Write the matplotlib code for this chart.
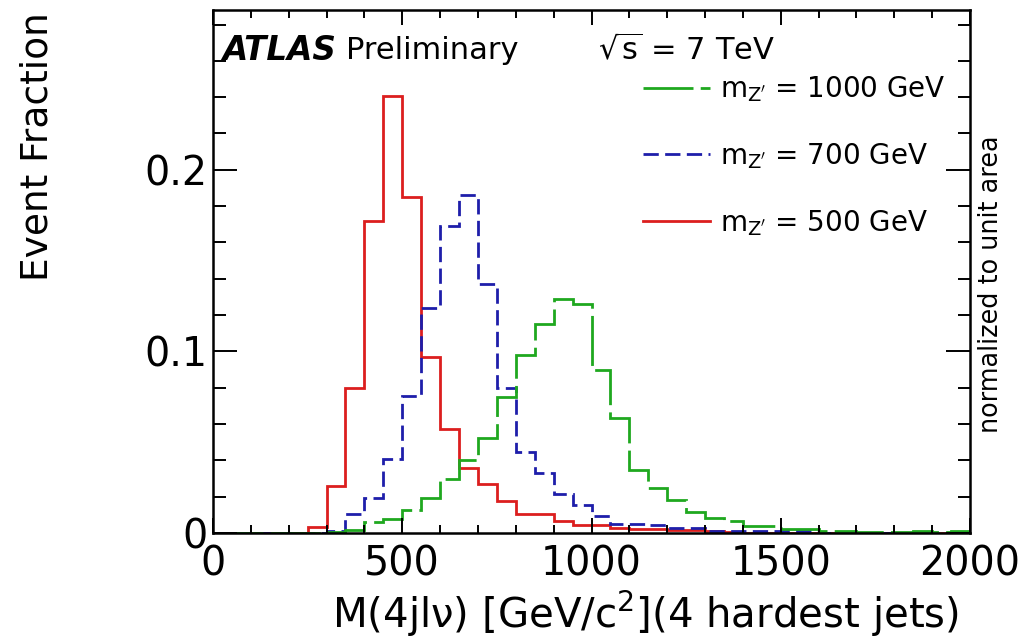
import numpy as np
import matplotlib
matplotlib.use("Agg")
import matplotlib.pyplot as plt
from matplotlib.ticker import MultipleLocator, FuncFormatter

# ---- data (bin width 50 GeV, 0-2000) ----
bin_edges = np.arange(0, 2001, 50)

frac_500 = [0, 0, 0, 0, 0, 0.0035, 0.026, 0.080, 0.172, 0.2406,
            0.185, 0.097, 0.057, 0.036, 0.027, 0.0175, 0.0105, 0.0105, 0.0065, 0.0044,
            0.0044, 0.003, 0.0022, 0.0022, 0.0018, 0.0015, 0.001, 0.0005, 0, 0,
            0, 0, 0, 0, 0, 0, 0, 0, 0, 0]

frac_700 = [0, 0, 0, 0, 0, 0, 0.001, 0.0105, 0.0195, 0.0405,
            0.0755, 0.124, 0.169, 0.186, 0.137, 0.080, 0.0445, 0.033, 0.0215, 0.0155,
            0.0093, 0.0052, 0.005, 0.0045, 0.003, 0.0025, 0.001, 0.001, 0.001, 0.001,
            0.001, 0.001, 0, 0, 0, 0, 0, 0, 0, 0]

frac_1000 = [0, 0, 0, 0, 0, 0, 0.0008, 0.0015, 0.006, 0.0075,
             0.0125, 0.0195, 0.030, 0.040, 0.0525, 0.075, 0.098, 0.115, 0.129, 0.126,
             0.0895, 0.0635, 0.0345, 0.025, 0.018, 0.0115, 0.0085, 0.0065, 0.004, 0.004,
             0.0022, 0.0022, 0.001, 0.001, 0.0004, 0.0004, 0.0005, 0.001, 0.0004, 0.001]

labels = {"500": r"$\mathrm{m_{Z'}}$ = 500 GeV",
          "700": r"$\mathrm{m_{Z'}}$ = 700 GeV",
          "1000": r"$\mathrm{m_{Z'}}$ = 1000 GeV"}

x_ticks = [0, 500, 1000, 1500, 2000]
y_ticks = [0, 0.1, 0.2]

# ---- figure ----
plt.rcParams['font.family'] = ['DejaVu Sans']
plt.rcParams['mathtext.fontset'] = 'dejavusans'

W, H = 1023, 640
fig = plt.figure(figsize=(W / 100, H / 100), dpi=100)
ax = fig.add_axes([213 / W, 1 - 533 / H, (970 - 213) / W, (533 - 10) / H])

lw = 2.0
s_red = ax.stairs(frac_500, bin_edges, color='#dc1e1e', lw=lw, baseline=0,
                  label=labels["500"])
s_blue = ax.stairs(frac_700, bin_edges, color='#1e1eaa', lw=lw, baseline=0,
                   linestyle=(0, (5.5, 2.3)), label=labels["700"])
s_green = ax.stairs(frac_1000, bin_edges, color='#1fa81f', lw=lw, baseline=0,
                    linestyle=(0, (18, 2.6)), label=labels["1000"])

ax.set_xlim(0, 2000)
ax.set_ylim(0, 0.288)

ax.xaxis.set_major_locator(MultipleLocator(500))
ax.xaxis.set_minor_locator(MultipleLocator(100))
ax.yaxis.set_major_locator(MultipleLocator(0.1))
ax.yaxis.set_minor_locator(MultipleLocator(0.02))
ax.set_xticks(x_ticks)
ax.set_yticks(y_ticks)
ax.yaxis.set_major_formatter(FuncFormatter(lambda v, p: "0" if v == 0 else f"{v:.1f}"))

for sp in ax.spines.values():
    sp.set_linewidth(1.8)

ax.tick_params(axis='both', which='both', direction='in', top=True, right=True,
               width=1.4, labelsize=28.5)
ax.tick_params(axis='x', which='major', length=11, pad=8)
ax.tick_params(axis='x', which='minor', length=5.5)
ax.tick_params(axis='y', which='major', length=17, pad=4)
ax.tick_params(axis='y', which='minor', length=9)

# texts
ax.text(0.012, 0.923, "ATLAS", transform=ax.transAxes, fontsize=23.5,
        fontweight='bold', fontstyle='italic', va='center', ha='left')
ax.text(0.176, 0.923, "Preliminary", transform=ax.transAxes, fontsize=22,
        va='center', ha='left')
ax.text(0.509, 0.923, r"$\sqrt{\mathrm{s}}$ = 7 TeV", transform=ax.transAxes,
        fontsize=22, va='center', ha='left')

leg = ax.legend(handles=[s_green, s_blue, s_red], loc='upper left',
                bbox_to_anchor=(0.568, 0.877), frameon=False, fontsize=20,
                handlelength=2.41, handletextpad=0.36, labelspacing=1.33,
                borderpad=0, borderaxespad=0)

fig.text(38 / W, 1 - 147 / H, "Event Fraction", rotation=90, fontsize=27,
         ha='center', va='center')
fig.text(991 / W, 1 - 284 / H, "normalized to unit area", rotation=90,
         fontsize=18.4, ha='center', va='center')
fig.text(645 / W, 1 - 628 / H, r"M(4jlν) [GeV/c$^{2}$](4 hardest jets)",
         fontsize=29, ha='center', va='baseline')

fig.savefig("out.png", dpi=100)
